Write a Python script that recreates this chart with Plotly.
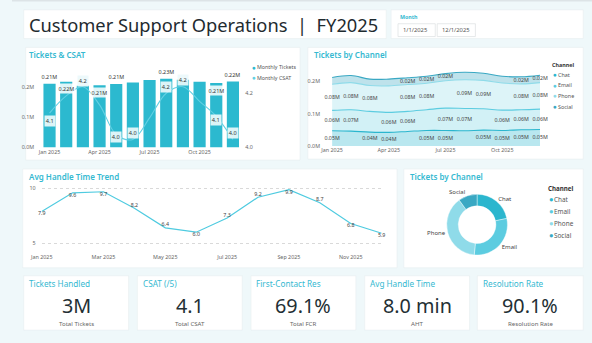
import plotly.graph_objects as go

W, H = 592, 343
FONT = "Segoe UI, Noto Sans, sans-serif"
TEAL_T = "#35b9d1"
DARK = "#232f34"
GREY = "#666666"

# ---------------- data ----------------
months = ["Jan 2025", "Feb 2025", "Mar 2025", "Apr 2025", "May 2025", "Jun 2025",
          "Jul 2025", "Aug 2025", "Sep 2025", "Oct 2025", "Nov 2025", "Dec 2025"]
quarter_ticks = ["Jan 2025", "Apr 2025", "Jul 2025", "Oct 2025"]
aht_ticks = ["Jan 2025", "Mar 2025", "May 2025", "Jul 2025", "Sep 2025", "Nov 2025"]

monthly_tickets_m = [0.212, 0.218, 0.205, 0.207, 0.211, 0.216, 0.224, 0.228, 0.225, 0.218, 0.214, 0.219]
monthly_csat = [4.127, 4.19, 4.224, 4.157, 4.048, 4.03, 4.109, 4.2, 4.224, 4.17, 4.115, 4.03]

channels = ["Chat", "Email", "Phone", "Social"]
chat_m = [0.047, 0.046, 0.043, 0.042, 0.045, 0.048, 0.048, 0.047, 0.049, 0.048, 0.050, 0.051]
email_m = [0.063, 0.066, 0.064, 0.062, 0.062, 0.064, 0.069, 0.069, 0.066, 0.063, 0.062, 0.063]
phone_m = [0.081, 0.084, 0.080, 0.082, 0.083, 0.082, 0.085, 0.089, 0.088, 0.084, 0.080, 0.082]
social_m = [0.021, 0.022, 0.020, 0.021, 0.021, 0.022, 0.022, 0.023, 0.022, 0.021, 0.022, 0.023]

aht_min = [7.9, 9.6, 9.7, 8.2, 6.4, 6.0, 7.3, 9.2, 9.9, 8.7, 6.8, 5.9]

kpi_titles = ["Tickets Handled", "CSAT (/5)", "First-Contact Res", "Avg Handle Time", "Resolution Rate"]
kpi_values = ["3M", "4.1", "69.1%", "8.0 min", "90.1%"]
kpi_subtitles = ["Total Tickets", "Total CSAT", "Total FCR", "AHT", "Resolution Rate"]

# ---------------- presentation config ----------------
ch_colors = {"Chat": "#2bb6ce", "Email": "#5ccce0", "Phone": "#8fdbe9", "Social": "#3aa8c3"}
ch_fills = {"Chat": "rgba(43,182,206,0.33)", "Email": "rgba(92,204,224,0.28)",
            "Phone": "rgba(143,219,233,0.30)", "Social": "rgba(58,168,195,0.33)"}
BAR_C = "#2cb9cf"
CSAT_C = "#62d0e3"
ticket_label_side = ["above", "inside", None, "inside", "above", None, None, "above", None, None, "inside", "above"]
csat_label_shift = [-8, None, 6, None, -2, 6, None, 6, 7, None, -4, 6]
area_label_show = {
    "Chat": [1, 0, 1, 1, 0, 1, 1, 0, 1, 1, 1, 1],
    "Email": [1, 1, 0, 1, 1, 0, 1, 1, 0, 1, 1, 1],
    "Phone": [1, 1, 1, 0, 1, 1, 0, 1, 1, 0, 1, 1],
    "Social": [0, 0, 0, 0, 1, 1, 1, 0, 0, 0, 1, 1],
}
aht_pos = ["bottom center", "bottom center", "bottom center", "top center", "top center", "bottom center",
           "top center", "top center", "bottom center", "top center", "bottom center", "bottom center"]


def fx(p):
    return p / W


def fy(p):
    return 1 - p / H


fig = go.Figure()
shapes = []
anns = []


def panel(x0, y0, x1, y1):
    shapes.append(dict(type="rect", xref="paper", yref="paper", x0=fx(x0), x1=fx(x1), y0=fy(y1), y1=fy(y0),
                       fillcolor="white", line=dict(color="#e8eef0", width=0.6), layer="below"))


def ann(text, x, y, size, color=DARK, xanchor="left", weight="normal", bg=None, yanchor="middle"):
    d = dict(text=text, x=fx(x), y=fy(y), xref="paper", yref="paper", showarrow=False,
             xanchor=xanchor, yanchor=yanchor, font=dict(family=FONT, size=size, color=color, weight=weight))
    if bg:
        d["bgcolor"] = bg
    anns.append(d)


# page top strip
shapes.append(dict(type="rect", xref="paper", yref="paper", x0=0, x1=1, y0=fy(1.5), y1=1,
                   fillcolor="#dde4e7", line=dict(width=0), layer="below"))

# ---------------- header ----------------
panel(12, 10, 382, 39)
ann("Customer Support Operations\u00a0\u00a0|\u00a0\u00a0FY2025", 15, 25, 18.3, "#1f2b30")
panel(387, 10, 583, 39)
ann("Month", 393.5, 17.5, 5.3, TEAL_T, weight="bold")
for (a, b, t) in [(394, 432, "1/1/2025"), (434, 473, "12/1/2025")]:
    shapes.append(dict(type="rect", xref="paper", yref="paper", x0=fx(a), x1=fx(b), y0=fy(37), y1=fy(24),
                       fillcolor="white", line=dict(color="#dfe3e5", width=0.8)))
    ann(t, a + 3, 30.7, 5.8, "#555555")

# ---------------- Tickets & CSAT ----------------
panel(14, 48, 294, 162)
ann("Tickets & CSAT", 15.5, 55, 8, TEAL_T, weight=600)
k_t = 305.0
y0_t = 149.3
top_t = 70.0
rng_t = (y0_t - top_t) / k_t
fig.add_trace(go.Bar(x=months, y=monthly_tickets_m, marker=dict(color=BAR_C, line=dict(width=0)),
                     xaxis="x", yaxis="y", showlegend=False, hoverinfo="skip"))
fig.add_trace(go.Scatter(x=months, y=monthly_csat, mode="lines", line=dict(color=CSAT_C, width=1.1, shape="spline"),
                         xaxis="x", yaxis="y2", showlegend=False, hoverinfo="skip"))
for i, side in enumerate(ticket_label_side):
    if side:
        anns.append(dict(text=f"{monthly_tickets_m[i]:.2f}M", x=months[i], y=monthly_tickets_m[i], xref="x", yref="y",
                         showarrow=False, yshift=7.5 if side == "above" else -7, borderpad=0.6,
                         bgcolor="rgba(255,255,255,0.85)" if side == "inside" else "white",
                         font=dict(family=FONT, size=5.4, color="#333")))
for i, sh in enumerate(csat_label_shift):
    if sh is not None:
        anns.append(dict(text=f"{monthly_csat[i]:.1f}", x=months[i], y=monthly_csat[i], xref="x", yref="y2",
                         showarrow=False, yshift=sh, borderpad=0.8, bgcolor="rgba(235,249,251,0.92)",
                         font=dict(family=FONT, size=5.6, color="#333")))
ann("\u25cf", 243.3, 67.8, 6.5, BAR_C)
ann("Monthly Tickets", 248, 68, 5.3, "#555")
ann("\u25cf", 243.3, 78.8, 6.5, CSAT_C)
ann("Monthly CSAT", 248, 79, 5.3, "#555")

# ---------------- Tickets by Channel (area) ----------------
panel(302, 48, 583, 161)
ann("Tickets by Channel", 306, 55, 8, TEAL_T, weight=600)
series = {"Chat": chat_m, "Email": email_m, "Phone": phone_m, "Social": social_m}
base = [0.0] * 12
for ch in channels:
    vals = series[ch]
    fig.add_trace(go.Scatter(x=months, y=vals, stackgroup="one", mode="lines",
                             line=dict(color=ch_colors[ch], width=1.1, shape="spline"),
                             fillcolor=ch_fills[ch], xaxis="x3", yaxis="y3", showlegend=False, hoverinfo="skip"))
    mids = [base[j] + vals[j] / 2 for j in range(12)]
    texts = [f"{vals[j]:.2f}M" if area_label_show[ch][j] else "" for j in range(12)]
    fig.add_trace(go.Scatter(x=months, y=mids, mode="text", text=texts, cliponaxis=False,
                             textfont=dict(family=FONT, size=5.3, color="#444"),
                             xaxis="x3", yaxis="y3", showlegend=False, hoverinfo="skip"))
    base = [base[j] + vals[j] for j in range(12)]
ann("Channel", 549.5, 66, 5.4, "#333", weight="bold")
for i, ch in enumerate(channels):
    yy = 75.7 + i * 10.7
    ann("\u25cf", 550.3, yy - 0.2, 6.5, ch_colors[ch])
    ann(ch, 555, yy, 5.4, "#555")
k_a = 327.0
y0_a = 147.7
rng_a = 0.24
top_a = y0_a - rng_a * k_a

# ---------------- AHT ----------------
panel(11, 171, 393, 271)
ann("Avg Handle Time Trend", 15, 179, 8, TEAL_T, weight=600)
fig.add_trace(go.Scatter(x=months, y=aht_min, mode="lines+text", text=[f"{v:.1f}" for v in aht_min],
                         textposition=aht_pos, textfont=dict(family=FONT, size=5.3, color="#444"),
                         line=dict(color="#4fcbe0", width=1.2), xaxis="x4", yaxis="y4",
                         showlegend=False, hoverinfo="skip", cliponaxis=False))
k_h = 11.06
y10 = 190.7
lo_h, hi_h = 4.1, 10.4
bot_h = y10 + (10 - lo_h) * k_h
top_h = y10 - (hi_h - 10) * k_h

# ---------------- Donut ----------------
panel(400, 171, 583, 271)
ann("Tickets by Channel", 404, 179, 8, TEAL_T, weight=600)
totals = [sum(series[c]) for c in channels]
cx, cy, r = 474.7, 227.3, 31
fig.add_trace(go.Pie(labels=channels, values=totals, hole=0.62, sort=False, direction="clockwise", rotation=0,
                     marker=dict(colors=[ch_colors[c] for c in channels], line=dict(color="white", width=0.4)),
                     textinfo="label", textposition="outside", textfont=dict(family=FONT, size=6, color="#444"),
                     domain=dict(x=[fx(cx - r), fx(cx + r)], y=[fy(cy + r), fy(cy - r)]),
                     showlegend=False, hoverinfo="skip", automargin=False))
ann("Channel", 545.5, 190.7, 6.2, "#333", weight="bold")
for i, ch in enumerate(channels):
    yy = 201.7 + i * 12.2
    ann("\u25cf", 546.3, yy - 0.2, 7.5, ch_colors[ch])
    ann(ch, 551.5, yy, 6.4, "#555")

# ---------------- KPI cards ----------------
kpi_x = [(12, 119), (128, 235), (244, 351), (360, 467), (475, 583)]
for (a, b), t, v, s in zip(kpi_x, kpi_titles, kpi_values, kpi_subtitles):
    panel(a, 279, b, 334)
    ann(t, a + 3.3, 287, 8.2, TEAL_T)
    ann(v, (a + b) / 2, 309.5, 19.8, DARK, xanchor="center")
    ann(s, (a + b) / 2, 327.3, 6.1, GREY, xanchor="center")

# ---------------- axes ----------------
tick_font = dict(family=FONT, size=5.4, color=GREY)
layout_axes = dict(
    xaxis=dict(domain=[fx(29.8), fx(234)], type="category", categoryorder="array", categoryarray=months,
               range=[-0.5, 11.5], tickvals=quarter_ticks, ticktext=quarter_ticks, tickfont=tick_font,
               showgrid=False, zeroline=False, showline=False, ticks="", anchor="y", fixedrange=True),
    yaxis=dict(domain=[fy(y0_t), fy(top_t)], range=[0, rng_t], tickvals=[0, 0.1, 0.2],
               ticktext=["0.0M", "0.1M", "0.2M"], tickfont=tick_font, showgrid=False, zeroline=False,
               anchor="x", ticklabelstandoff=6),
    yaxis2=dict(overlaying="y", side="right", range=[4.0, 4.0 + (y0_t - top_t) / 275.0], tickvals=[4.0, 4.2],
                ticktext=["4.0", "4.2"], tickfont=tick_font, showgrid=False, zeroline=False, anchor="x",
                ticklabelstandoff=3),
    xaxis3=dict(domain=[fx(326.7), fx(539)], type="category", categoryorder="array", categoryarray=months,
                range=[0, 11], tickvals=quarter_ticks, ticktext=quarter_ticks, tickfont=tick_font,
                showgrid=False, zeroline=False, anchor="y3"),
    yaxis3=dict(domain=[fy(y0_a), fy(top_a)], range=[0, rng_a], tickvals=[0, 0.1, 0.2],
                ticktext=["0.0M", "0.1M", "0.2M"], tickfont=tick_font, showgrid=False, zeroline=False,
                anchor="x3", ticklabelstandoff=11),
    xaxis4=dict(domain=[fx(30.3), fx(377.3)], type="category", categoryorder="array", categoryarray=months,
                range=[0, 11], tickvals=aht_ticks, ticktext=aht_ticks, tickfont=tick_font,
                showgrid=False, zeroline=False, anchor="y4"),
    yaxis4=dict(domain=[fy(bot_h), fy(top_h)], range=[lo_h, hi_h], tickvals=[5, 10], ticktext=["5", "10"],
                tickfont=tick_font, showgrid=True, gridcolor="#d9d9d9", griddash="dot", gridwidth=0.8,
                zeroline=False, anchor="x4", ticklabelstandoff=5),
)

fig.update_layout(
    width=W, height=H, margin=dict(l=0, r=0, t=0, b=0),
    paper_bgcolor="#eff8fa", plot_bgcolor="rgba(0,0,0,0)",
    font=dict(family=FONT), bargap=0.27,
    shapes=shapes, annotations=anns, showlegend=False,
    **layout_axes,
)

fig.write_html("out.html", config={"displayModeBar": False})
